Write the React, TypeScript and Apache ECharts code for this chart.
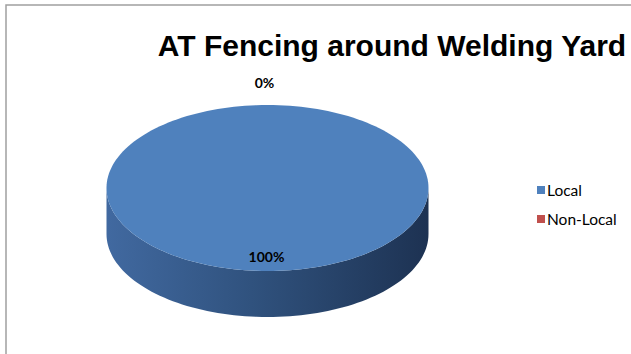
import React, { useEffect, useRef } from "react";
import * as echarts from "echarts";

const titleText = "AT Fencing around Welding Yard";
const categories = ["Local", "Non-Local"];
const values = [100, 0];
const topColors = ["#4F81BD", "#C0504D"];
const sideLight = ["#4169A0", "#A04340"];
const sideMid = ["#30527e", "#7e3230"];
const sideDark = ["#1D3252", "#5E2422"];

const CX = 267.5;
const CY = 188;
const RX = 161;
const RY = 83;
const DEPTH = 46;

function pt(t: number, cy: number, k = 1): number[] {
  return [CX + RX * k * Math.sin(t), cy - RY * k * Math.cos(t)];
}

export default function App() {
  const ref = useRef<HTMLDivElement>(null);
  useEffect(() => {
    document.body.style.margin = "0";
    const chart = echarts.init(ref.current!, null, { renderer: "svg" });
    const total = values.reduce((a, b) => a + b, 0);

    const renderItem = (params: any, api: any) => {
      const i = params.dataIndex;
      const v = api.value(0) as number;
      let before = 0;
      for (let k = 0; k < i; k++) before += values[k];
      const a0 = (before / total) * Math.PI * 2;
      const a1 = ((before + v) / total) * Math.PI * 2;
      const children: any[] = [];
      const N = 180;
      const s0 = Math.max(a0, Math.PI / 2);
      const s1 = Math.min(a1, (Math.PI * 3) / 2);
      if (s1 > s0) {
        const top: number[][] = [];
        const bot: number[][] = [];
        const n = Math.max(2, Math.ceil(((s1 - s0) / (Math.PI * 2)) * N));
        for (let j = 0; j <= n; j++) {
          const t = s0 + ((s1 - s0) * j) / n;
          top.push(pt(t, CY));
          bot.push(pt(t, CY + DEPTH));
        }
        children.push({
          type: "polygon",
          shape: { points: top.concat(bot.reverse()) },
          style: {
            fill: new echarts.graphic.LinearGradient(0, 0, 1, 0, [
              { offset: 0, color: sideLight[i] },
              { offset: 0.45, color: sideMid[i] },
              { offset: 1, color: sideDark[i] },
            ]),
          },
        });
      }
      if (a1 > a0) {
        const pts: number[][] = [];
        const full = a1 - a0 >= Math.PI * 2 - 1e-6;
        if (!full) pts.push([CX, CY]);
        const n = Math.max(2, Math.ceil(((a1 - a0) / (Math.PI * 2)) * N));
        for (let j = 0; j <= n; j++) {
          const t = a0 + ((a1 - a0) * j) / n;
          pts.push(pt(t, CY));
        }
        children.push({
          type: "polygon",
          shape: { points: pts },
          style: { fill: topColors[i] },
        });
      }
      const pct = Math.round((v / total) * 100);
      const mid = (a0 + a1) / 2;
      const inside = pct >= 5;
      const lp = pt(mid, CY, inside ? 0.82 : 1.27);
      children.push({
        type: "text",
        x: lp[0] - (inside ? 1 : 3),
        y: lp[1],
        z2: 10,
        style: {
          text: pct + "%",
          fill: "#000",
          font: "bold 14px Lato, 'Open Sans', sans-serif",
          align: "center",
          verticalAlign: "middle",
        },
      });
      return { type: "group", children };
    };

    chart.setOption({
      animation: false,
      backgroundColor: "#fff",
      title: {
        text: titleText,
        left: 387,
        top: 25,
        textAlign: "center",
        textStyle: {
          fontFamily: "'Liberation Sans', Arial, sans-serif",
          fontWeight: "bold",
          fontSize: 30,
          color: "#000",
        },
      },
      legend: {
        orient: "vertical",
        left: 532,
        top: 177,
        itemWidth: 8,
        itemHeight: 8,
        itemGap: 13,
        icon: "rect",
        selectedMode: false,
        data: categories,
        textStyle: {
          fontFamily: "Lato, 'Open Sans', sans-serif",
          fontSize: 15.5,
          color: "#000",
          padding: [0, 0, 0, -3],
        },
      },
      color: topColors,
      graphic: [
        {
          type: "rect",
          shape: { x: 6, y: 5, width: 700, height: 400 },
          style: { fill: "none", stroke: "#a0a0a0", lineWidth: 1.5 },
          silent: true,
          z: -10,
        },
      ],
      series: [
        {
          type: "custom",
          name: "pie3d",
          coordinateSystem: "none",
          renderItem,
          data: values.map((v, i) => ({ name: categories[i], value: [v] })),
        },
        {
          type: "pie",
          radius: [0, 0],
          center: [CX, CY],
          silent: true,
          label: { show: false },
          labelLine: { show: false },
          data: values.map((v, i) => ({
            name: categories[i],
            value: v,
            itemStyle: { color: topColors[i] },
          })),
        },
      ],
    });
    return () => chart.dispose();
  }, []);
  return (
    <div
      ref={ref}
      style={{ position: "absolute", left: 0, top: 0, width: 631, height: 354 }}
    />
  );
}
